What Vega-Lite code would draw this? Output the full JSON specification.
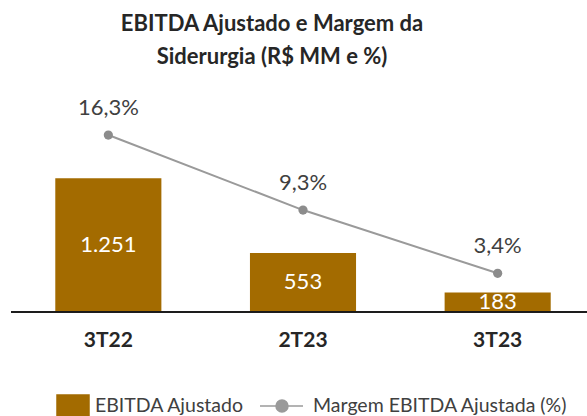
{
  "$schema": "https://vega.github.io/schema/vega-lite/v6.json",
  "width": 584,
  "height": 212,
  "autosize": "none",
  "padding": {"left": 11, "top": 100, "right": 0, "bottom": 104},
  "background": "white",
  "title": {
    "text": ["EBITDA Ajustado e Margem da", "Siderurgia (R$ MM e %)"],
    "font": "Lato",
    "fontSize": 22,
    "fontWeight": "bold",
    "color": "#262626",
    "anchor": "middle",
    "frame": "group",
    "dx": -31,
    "lineHeight": 33,
    "offset": 28
  },
  "config": {"view": {"stroke": null}},
  "data": {
    "values": [
      {"periodo": "3T22", "ebitda": 1251, "margem": 16.3, "ebitda_lbl": "1.251", "margem_lbl": "16,3%"},
      {"periodo": "2T23", "ebitda": 553, "margem": 9.3, "ebitda_lbl": "553", "margem_lbl": "9,3%"},
      {"periodo": "3T23", "ebitda": 183, "margem": 3.4, "ebitda_lbl": "183", "margem_lbl": "3,4%"}
    ]
  },
  "encoding": {
    "x": {
      "field": "periodo",
      "type": "nominal",
      "sort": null,
      "scale": {"paddingInner": 0.455, "paddingOuter": 0.2275},
      "axis": {
        "title": null,
        "labelAngle": 0,
        "labelFont": "Lato",
        "labelFontSize": 21,
        "labelFontWeight": "bold",
        "labelColor": "#262626",
        "labelPadding": 17,
        "ticks": false,
        "domain": false,
        "grid": false
      }
    }
  },
  "layer": [
    {
      "mark": {"type": "bar"},
      "encoding": {
        "y": {"field": "ebitda", "type": "quantitative", "scale": {"domain": [0, 1983]}, "axis": null},
        "color": {
          "datum": "EBITDA Ajustado",
          "scale": {"domain": ["EBITDA Ajustado", "Margem EBITDA Ajustada (%)"], "range": ["#A36B00", "#9A9A9A"]},
          "legend": {
            "orient": "none",
            "legendX": 41,
            "legendY": 285,
            "direction": "horizontal",
            "columns": 2,
            "title": null,
            "padding": 0,
            "labelFont": "Lato",
            "labelFontSize": 19.5,
            "labelColor": "#404040",
            "labelOffset": 1,
            "labelLimit": 400,
            "columnPadding": 12,
            "symbolSize": 1600,
            "encode": {
              "symbols": {
                "update": {
                  "shape": {"signal": "datum.value === 'EBITDA Ajustado' ? 'M-0.8,-0.55H0.8V0.55H-0.8Z' : 'M-1.55,0H0.6M-0.15,0A0.3,0.3,0,1,1,-0.75,0A0.3,0.3,0,1,1,-0.15,0ZM0,-0.55M0,0.55'"},
                  "size": {"value": 1600},
                  "fill": {"signal": "datum.value === 'EBITDA Ajustado' ? '#A36B00' : '#8C8C8C'"},
                  "stroke": {"signal": "datum.value === 'EBITDA Ajustado' ? '#A36B00' : '#9A9A9A'"},
                  "strokeWidth": {"value": 1.5},
                  "opacity": {"value": 1},
                  "fillOpacity": {"value": 1}
                }
              }
            }
          }
        }
      }
    },
    {
      "transform": [{"calculate": "datum.ebitda / 2", "as": "ebitda_mid"}],
      "mark": {"type": "text", "font": "Lato", "fontSize": 22, "color": "white", "baseline": "middle"},
      "encoding": {
        "y": {"field": "ebitda_mid", "type": "quantitative", "scale": {"domain": [0, 1983]}, "axis": null},
        "text": {"field": "ebitda_lbl"}
      }
    },
    {
      "mark": {"type": "rule", "color": "#1a1a1a", "strokeWidth": 1.5},
      "encoding": {
        "y": {"datum": 0, "type": "quantitative", "scale": {"domain": [0, 1983]}, "axis": null},
        "x": {"value": 0},
        "x2": {"value": 584}
      }
    },
    {
      "layer": [
        {
          "mark": {"type": "line", "strokeWidth": 2},
          "encoding": {
            "y": {"field": "margem", "type": "quantitative", "scale": {"domain": [-0.21, 19.57]}, "axis": null},
            "color": {"datum": "Margem EBITDA Ajustada (%)"}
          }
        },
        {
          "mark": {"type": "point", "filled": true, "size": 85, "color": "#8C8C8C", "opacity": 1},
          "encoding": {
            "y": {"field": "margem", "type": "quantitative", "scale": {"domain": [-0.21, 19.57]}, "axis": null}
          }
        },
        {
          "mark": {"type": "text", "font": "Lato", "fontSize": 22, "color": "#404040", "baseline": "middle", "dy": -27},
          "encoding": {
            "y": {"field": "margem", "type": "quantitative", "scale": {"domain": [-0.21, 19.57]}, "axis": null},
            "text": {"field": "margem_lbl"}
          }
        }
      ]
    }
  ],
  "resolve": {"scale": {"y": "independent"}}
}
